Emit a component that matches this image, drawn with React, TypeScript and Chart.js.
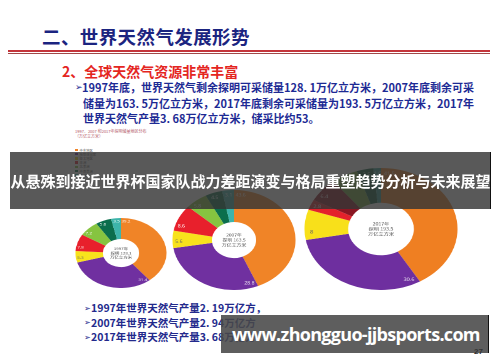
import React, { useEffect, useRef } from 'react';
import { Chart, registerables } from 'chart.js';

Chart.register(...registerables);

// ---------- data ----------
const regions7 = ['中东地区', '独联体国家', '亚太地区', '非洲', '北美洲', '中南美洲', '欧洲'];
const regions8 = ['中东地区', '独联体国家', '亚太地区', '欧洲', '非洲', '北美洲', '中南美洲', '其他'];
const share1997 = [39.2, 31.4, 5.3, 7.8, 7.2, 5.6, 3.5];
const share2007 = [43.6, 28.8, 5.6, 8.6, 5.8, 4.5, 3.1];
const share2017 = [41.5, 30.6, 8.0, 2.8, 6.4, 5.6, 3.5, 1.6];
const centerTexts = [
  ['1997年', '探明 128.1', '万亿立方米'],
  ['2007年', '探明 163.5', '万亿立方米'],
  ['2017年', '探明 193.5', '万亿立方米'],
];
const titleText = '二、世界天然气发展形势';
const subTitle = '2、全球天然气资源非常丰富';
const paraLines = [
  '1997年底，世界天然气剩余探明可采储量128. 1万亿立方米，2007年底剩余可采',
  '储量为163. 5万亿立方米，2017年底剩余可采储量为193. 5万亿立方米，2017年',
  '世界天然气产量3. 68万亿立方米，储采比约53。',
];
const captionLines = ['1997、2007 和2017年探明储量地区分布', '（万亿立方米）'];
const bottomLines = ['1997年世界天然气产量2. 19万亿方，', '2007年世界天然气产量2. 94万亿方', '2017年世界天然气产量3. 68万亿方'];
const bannerText = '从悬殊到接近世界杯国家队战力差距演变与格局重塑趋势分析与未来展望';
const watermark = 'www.zhongguo-jjbsports.com';
const pageNo = '27';

// ---------- styles ----------
const colors7 = ['#f08427', '#7030a0', '#f8e21c', '#e8202c', '#86c440', '#0b6e4c', '#3db4aa'];
const colors8 = ['#ef7f22', '#6e2f9f', '#f8e01a', '#e4212b', '#8a1622', '#6fa83b', '#0c5a3b', '#2f9a8e'];
const CJK = '"Noto Sans CJK SC", "Noto Sans", sans-serif';

const pies = [
  { cx: 120.5, cy: 253, rx: 45.5, ry: 35, cut: '40%', labels: regions7, data: share1997, colors: colors7, center: centerTexts[0], fs: 3.6 },
  { cx: 233.5, cy: 240, rx: 61.5, ry: 50, cut: '36%', labels: regions7, data: share2007, colors: colors7, center: centerTexts[1], fs: 4.2 },
  { cx: 380.5, cy: 229, rx: 76.5, ry: 61, cut: '43%', labels: regions8, data: share2017, colors: colors8, center: centerTexts[2], fs: 4.4 },
];

const labelPlugin = {
  id: 'sliceLabels',
  afterDatasetsDraw(chart: any, _args: any, opts: any) {
    const ctx = chart.ctx;
    const meta = chart.getDatasetMeta(0);
    const ds = chart.data.datasets[0];
    const fs = opts.fontSize || 5;
    ctx.save();
    ctx.font = `${fs}px "Noto Sans", sans-serif`;
    ctx.textAlign = 'center';
    ctx.textBaseline = 'middle';
    let cx = 0, cy = 0;
    meta.data.forEach((arc: any, i: number) => {
      const p = arc.getProps(['startAngle', 'endAngle', 'outerRadius', 'innerRadius', 'x', 'y'], true);
      cx = p.x; cy = p.y;
      const span = p.endAngle - p.startAngle;
      const a = p.startAngle + Math.min(span / 2, 0.12);
      const r = p.innerRadius + (p.outerRadius - p.innerRadius) * 0.84;
      const col = ds.backgroundColor[i];
      ctx.fillStyle = col === '#f8e21c' || col === '#f8e01a' ? '#666' : 'rgba(255,255,255,0.9)';
      ctx.fillText(String(ds.data[i]), cx + Math.cos(a) * r, cy + Math.sin(a) * r);
    });
    const lines: string[] = opts.center || [];
    ctx.fillStyle = '#555';
    ctx.font = `${fs * 0.95}px "Noto Sans CJK SC", sans-serif`;
    const lh = fs * 1.15;
    lines.forEach((t, k) => {
      ctx.fillText(t, cx, cy + (k - (lines.length - 1) / 2) * lh);
    });
    ctx.restore();
  },
};

function Pie({ cfg }: { cfg: any }) {
  const ref = useRef<HTMLCanvasElement>(null);
  useEffect(() => {
    const chart = new Chart(ref.current as HTMLCanvasElement, {
      type: 'doughnut',
      data: {
        labels: cfg.labels,
        datasets: [{ data: cfg.data, backgroundColor: cfg.colors, borderWidth: 0 }],
      },
      options: {
        responsive: false,
        animation: false,
        devicePixelRatio: 2,
        cutout: cfg.cut,
        events: [],
        layout: { padding: 0 },
        plugins: {
          legend: { display: false },
          tooltip: { enabled: false },
          sliceLabels: { center: cfg.center, fontSize: cfg.fs },
        } as any,
      },
      plugins: [labelPlugin],
    });
    return () => chart.destroy();
  }, []);
  const d = cfg.ry * 2;
  return (
    <div
      style={{
        position: 'absolute',
        left: cfg.cx - cfg.ry,
        top: cfg.cy - cfg.ry,
        width: d,
        height: d,
        transform: `scaleX(${cfg.rx / cfg.ry})`,
        transformOrigin: '50% 50%',
      }}
    >
      <canvas ref={ref} width={d} height={d} style={{ width: d, height: d, display: 'block' }} />
    </div>
  );
}

function T(props: { x: number; y: number; size: number; color: string; children: any; weight?: number; family?: string; ls?: number }) {
  const { x, y, size, color, children, weight = 700, family = CJK, ls = 0 } = props;
  return (
    <div
      style={{
        position: 'absolute',
        left: x,
        top: y - size * 0.55,
        fontSize: size,
        lineHeight: `${size}px`,
        color,
        fontWeight: weight,
        fontFamily: family,
        whiteSpace: 'nowrap',
        letterSpacing: ls,
      }}
    >
      {children}
    </div>
  );
}

export default function App() {
  return (
    <div style={{ position: 'absolute', left: 0, top: 0, width: 500, height: 362, background: '#fff', overflow: 'hidden' }}>
      <T x={42} y={37} size={18.5} color="#1b2480" ls={0.4}>{titleText}</T>
      <div style={{ position: 'absolute', left: 8, top: 50, width: 482, height: 2, background: '#c4353b' }} />
      <div style={{ position: 'absolute', left: 8, top: 53, width: 482, height: 1, background: '#a24848' }} />
      <T x={62} y={72} size={14} color="#e4261f">{subTitle}</T>
      <T x={75} y={88} size={9} color="#1d2a94" family={'"DejaVu Sans", sans-serif'}>➢</T>
      {paraLines.map((l, i) => (
        <T key={i} x={i === 0 ? 82 : 83} y={88 + i * 15.7} size={11} color="#1d2a94">{l}</T>
      ))}
      {captionLines.map((l, i) => (
        <T key={i} x={75} y={131 + i * 5} size={4} weight={400} color="#b55a6a">{l}</T>
      ))}
      {regions7.map((r, i) => (
        <div key={r} style={{ position: 'absolute', left: 75, top: 148.5 + i * 4.2, height: 3, display: 'flex', alignItems: 'center' }}>
          <div style={{ width: 2.6, height: 2.6, background: colors7[i], marginRight: 2 }} />
          <span style={{ fontSize: 3.3, lineHeight: '3px', color: '#555', fontFamily: CJK, whiteSpace: 'nowrap' }}>{r}</span>
        </div>
      ))}
      {pies.map((p, i) => (
        <Pie key={i} cfg={p} />
      ))}
      {bottomLines.map((l, i) => (
        <React.Fragment key={i}>
          <T x={84} y={309 + i * 14.6} size={8} color="#232a8c" family={'"DejaVu Sans", sans-serif'}>➢</T>
          <T x={91} y={309 + i * 14.6} size={10.5} color="#232a8c">{l}</T>
        </React.Fragment>
      ))}
      <div
        style={{
          position: 'absolute',
          left: 10,
          top: 152,
          width: 480,
          height: 57,
          background: 'rgba(52,52,52,0.82)',
          borderRight: '1.5px solid #111',
        }}
      />
      <div
        style={{
          position: 'absolute',
          left: 10,
          top: 152,
          width: 481,
          height: 57,
          display: 'flex',
          alignItems: 'center',
          justifyContent: 'center',
          color: '#fff',
          fontFamily: CJK,
          fontWeight: 700,
          fontSize: 15,
          whiteSpace: 'nowrap',
        }}
      >
        {bannerText}
      </div>
      <div
        style={{
          position: 'absolute',
          left: 221,
          top: 315,
          width: 267,
          height: 38,
          background: 'rgba(72,72,72,0.88)',
          borderRight: '1.5px solid #111',
        }}
      />
      <T x={232} y={335} size={18} color="#fff" family={'"Open Sans", sans-serif'} ls={-0.7}>{watermark}</T>
      <T x={474} y={352} size={8} color="#333" family={'"Liberation Sans", sans-serif'}>{pageNo}</T>
    </div>
  );
}
